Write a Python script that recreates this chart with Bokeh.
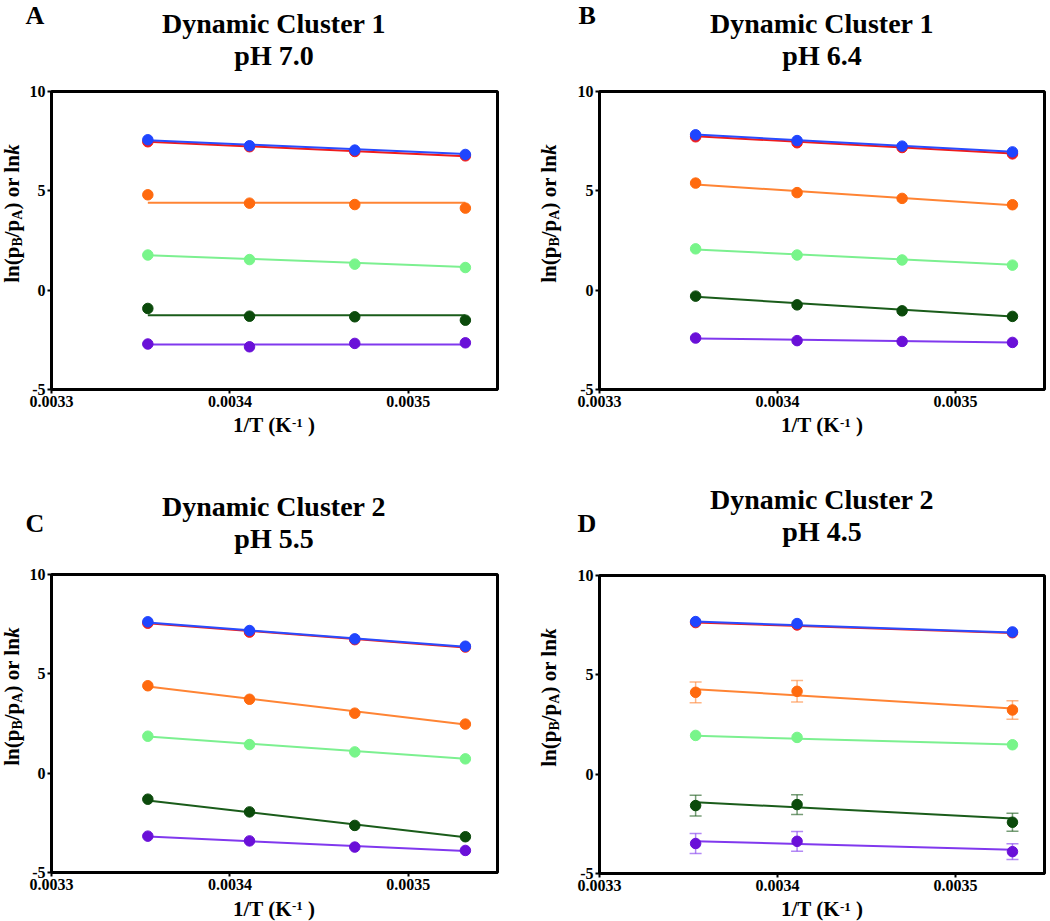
from bokeh.plotting import figure
from bokeh.layouts import row, column
from bokeh.models import Label, FixedTicker, PrintfTickFormatter, Range1d, ColumnDataSource, Whisker, TeeHead
from bokeh.embed import file_html
from bokeh.resources import INLINE

# ---------------- data ----------------
# 1/T (K^-1) at 25, 20, 15, 10 degC
X_FOUR = [0.003354, 0.003411, 0.003470, 0.003532]
# panel D lacks the 15 degC point
X_THREE = [0.003354, 0.003411, 0.003532]

SERIES_ORDER = ["purple", "darkgreen", "lightgreen", "orange", "red", "blue"]

A_POINTS = {
    "red": [7.47, 7.22, 6.98, 6.76],
    "blue": [7.57, 7.27, 7.05, 6.83],
    "orange": [4.80, 4.38, 4.31, 4.13],
    "lightgreen": [1.77, 1.54, 1.31, 1.14],
    "darkgreen": [-0.92, -1.31, -1.34, -1.51],
    "purple": [-2.71, -2.85, -2.68, -2.65],
}
A_FIT = {
    "red": [7.47, 6.74], "blue": [7.55, 6.85], "orange": [4.40, 4.40],
    "lightgreen": [1.76, 1.17], "darkgreen": [-1.26, -1.26], "purple": [-2.74, -2.74],
}

B_POINTS = {
    "red": [7.72, 7.42, 7.18, 6.86],
    "blue": [7.82, 7.53, 7.25, 6.96],
    "orange": [5.39, 4.91, 4.62, 4.30],
    "lightgreen": [2.08, 1.77, 1.52, 1.26],
    "darkgreen": [-0.30, -0.74, -1.04, -1.32],
    "purple": [-2.41, -2.54, -2.58, -2.63],
}
B_FIT = {
    "red": [7.75, 6.88], "blue": [7.83, 6.97], "orange": [5.32, 4.27],
    "lightgreen": [2.05, 1.28], "darkgreen": [-0.33, -1.33], "purple": [-2.43, -2.64],
}

C_POINTS = {
    "red": [7.55, 7.10, 6.72, 6.35],
    "blue": [7.62, 7.18, 6.76, 6.39],
    "orange": [4.40, 3.72, 3.02, 2.47],
    "lightgreen": [1.86, 1.44, 1.07, 0.72],
    "darkgreen": [-1.31, -1.95, -2.63, -3.20],
    "purple": [-3.17, -3.41, -3.72, -3.89],
}
C_FIT = {
    "red": [7.55, 6.33], "blue": [7.58, 6.36], "orange": [4.36, 2.45],
    "lightgreen": [1.84, 0.72], "darkgreen": [-1.38, -3.22], "purple": [-3.19, -3.92],
}

D_POINTS = {
    "red": [7.63, 7.51, 7.12],
    "blue": [7.68, 7.58, 7.16],
    "orange": [4.12, 4.17, 3.23],
    "lightgreen": [1.95, 1.85, 1.48],
    "darkgreen": [-1.58, -1.53, -2.42],
    "purple": [-3.49, -3.38, -3.90],
}
D_FIT = {
    "red": [7.63, 7.10], "blue": [7.68, 7.13], "orange": [4.28, 3.31],
    "lightgreen": [1.93, 1.49], "darkgreen": [-1.41, -2.23], "purple": [-3.38, -3.80],
}
D_ERR = {
    "orange": [0.52, 0.54, 0.46],
    "darkgreen": [0.52, 0.50, 0.45],
    "purple": [0.50, 0.50, 0.40],
}

X_TICKS = [0.0033, 0.0034, 0.0035]
Y_TICKS = [-5, 0, 5, 10]

# ---------------- styles ----------------
MARKER_COLORS = {
    "red": "#f01c1c", "blue": "#1f45ff", "orange": "#ff6a0e",
    "lightgreen": "#78f58a", "darkgreen": "#0b4a0b", "purple": "#6a10d8",
}
LINE_COLORS = {
    "red": "#f01c1c", "blue": "#2a4cff", "orange": "#ff8434",
    "lightgreen": "#7cf090", "darkgreen": "#1a5c1a", "purple": "#8038ee",
}
FONT = "Liberation Serif"
MID = 0.34  # distance (em) from baseline to the text box centre


# Times-Bold advance widths (per 1000 em) for composing rich labels
def w(text, size, italic=False):
    table = {"l": 278, "n": 556, "(": 333, "p": 556, "/": 278, ")": 333, " ": 250,
             "o": 500, "r": 444, "B": 667, "A": 722, "k": 500 if italic else 556,
             "1": 500, "T": 667, "K": 778, "-": 333}
    return sum(table[c] for c in text) * size / 1000.0


def lbl(p, text, x, y, size, style="bold", align="left", angle=0):
    # (x, y) is the baseline anchor; convert to the box-centre anchor
    if angle == 0:
        y = y + MID * size
    else:
        x = x - MID * size
    p.add_layout(Label(x=x, y=y, x_units="screen", y_units="screen", text=text,
                       text_font=FONT, text_font_size=f"{size}px", text_font_style=style,
                       text_color="black", text_align=align, text_baseline="middle",
                       angle=angle, angle_units="deg"))


def text_fig(width, height):
    f = figure(width=width, height=height, output_backend="svg", toolbar_location=None,
               tools="", x_axis_type=None, y_axis_type=None, min_border=0,
               x_range=Range1d(0, 1), y_range=Range1d(0, 1), title=None)
    f.outline_line_color = None
    f.background_fill_color = "white"
    f.border_fill_color = "white"
    return f


def data_fig(width, height, bl, br, bt, bb, xs, points, fits, errs):
    p = figure(width=width, height=height, output_backend="svg", toolbar_location=None,
               tools="", x_range=Range1d(0.0033, 0.00355), y_range=Range1d(-5, 10), title=None)
    p.min_border_left = bl
    p.min_border_right = br
    p.min_border_top = bt
    p.min_border_bottom = bb
    p.background_fill_color = "white"
    p.border_fill_color = "white"
    p.outline_line_color = "black"
    p.outline_line_width = 3
    p.grid.visible = False
    for ax in (p.xaxis, p.yaxis):
        ax.axis_line_width = 3
        ax.axis_line_color = "black"
        ax.major_tick_line_width = 2
        ax.major_tick_line_color = "black"
        ax.major_tick_out = 4
        ax.major_tick_in = 0
        ax.minor_tick_line_color = None
        ax.major_label_text_font = FONT
        ax.major_label_text_font_style = "bold"
        ax.major_label_text_font_size = "16px"
        ax.major_label_text_color = "black"
    p.xaxis.ticker = FixedTicker(ticks=X_TICKS)
    p.xaxis.formatter = PrintfTickFormatter(format="%.4f")
    p.xaxis.major_label_standoff = 2
    p.yaxis.ticker = FixedTicker(ticks=Y_TICKS)
    p.yaxis.formatter = PrintfTickFormatter(format="%d")
    p.yaxis.major_label_standoff = 2

    for key, e in errs.items():
        ys = points[key]
        src = ColumnDataSource(dict(x=xs, lo=[v - d for v, d in zip(ys, e)],
                                    hi=[v + d for v, d in zip(ys, e)]))
        c = LINE_COLORS[key]
        p.add_layout(Whisker(source=src, base="x", lower="lo", upper="hi", line_color=c,
                             line_alpha=0.6, line_width=1.5,
                             lower_head=TeeHead(size=12, line_color=c, line_alpha=0.6, line_width=1.5),
                             upper_head=TeeHead(size=12, line_color=c, line_alpha=0.6, line_width=1.5)))

    for key in SERIES_ORDER:
        p.line([xs[0], xs[-1]], fits[key], line_color=LINE_COLORS[key], line_width=2)
        p.scatter(xs, points[key], marker="circle", size=10.5,
                  fill_color=MARKER_COLORS[key], line_color=MARKER_COLORS[key])
    return p


def make_panel(letter, title1, title2, xs, points, fits, errs, g):
    pw = 525
    frame_cx = g["ylab_w"] + g["bl"] + (pw - g["ylab_w"] - g["bl"] - g["br"]) / 2.0
    data_h = g["bt"] + 298 + g["bb"]

    # titles & panel letter
    tf = text_fig(pw, g["title_h"])
    lbl(tf, letter, g["letter_x"], g["title_h"] - g["letter_base"], 26)
    lbl(tf, title1, frame_cx, g["title_h"] - g["t1_base"], 28, align="center")
    lbl(tf, title2, frame_cx, g["title_h"] - g["t2_base"], 28, align="center")

    # y axis label: ln(p_B/p_A) or lnk
    yf = text_fig(g["ylab_w"], data_h)
    pieces = [("ln(p", 21, "bold", 0), ("B", 14, "bold", 3), ("/p", 21, "bold", 0),
              ("A", 14, "bold", 3), (") or ln", 21, "bold", 0), ("k", 21, "bold italic", 0)]
    total = sum(w(t, s, "italic" in st) for t, s, st, _ in pieces)
    ypos = g["bb"] + 149 + 3 - total / 2
    for t, s, st, shift in pieces:
        lbl(yf, t, g["ylab_base"] + shift, ypos, s, style=st, angle=90)
        ypos += w(t, s, "italic" in st)

    dfig = data_fig(pw - g["ylab_w"], data_h, g["bl"], g["br"], g["bt"], g["bb"],
                    xs, points, fits, errs)

    # x axis label: 1/T (K^-1 )
    xf = text_fig(pw, g["xlab_h"])
    xpieces = [("1/T (K", 21, 0, 0), ("-1", 13, 5.5, 0), (")", 21, 0, w(" ", 21))]
    total = sum(w(t, s) + pre for t, s, _, pre in xpieces)
    xpos = frame_cx - total / 2
    for t, s, raise_, pre in xpieces:
        xpos += pre
        lbl(xf, t, xpos, g["xlab_h"] - g["xlab_base"] + raise_, s)
        xpos += w(t, s)

    return column(tf, row(yf, dfig), xf)


GEO_A = dict(ylab_w=26, bl=24, br=28, bt=11, bb=24, title_h=80, xlab_h=47,
             letter_x=25, letter_base=23.5, t1_base=33, t2_base=65, ylab_base=19, xlab_base=19)
GEO_B = dict(ylab_w=37, bl=37, br=6, bt=11, bb=24, title_h=80, xlab_h=47,
             letter_x=53, letter_base=23.5, t1_base=33, t2_base=65, ylab_base=31, xlab_base=19)
GEO_C = dict(ylab_w=26, bl=24, br=28, bt=11, bb=24, title_h=103, xlab_h=25,
             letter_x=25, letter_base=72, t1_base=56, t2_base=88, ylab_base=19, xlab_base=19.5)
GEO_D = dict(ylab_w=37, bl=37, br=6, bt=11, bb=24, title_h=104, xlab_h=24,
             letter_x=52, letter_base=72, t1_base=49, t2_base=81, ylab_base=31, xlab_base=19)

pA = make_panel("A", "Dynamic Cluster 1", "pH 7.0", X_FOUR, A_POINTS, A_FIT, {}, GEO_A)
pB = make_panel("B", "Dynamic Cluster 1", "pH 6.4", X_FOUR, B_POINTS, B_FIT, {}, GEO_B)
pC = make_panel("C", "Dynamic Cluster 2", "pH 5.5", X_FOUR, C_POINTS, C_FIT, {}, GEO_C)
pD = make_panel("D", "Dynamic Cluster 2", "pH 4.5", X_THREE, D_POINTS, D_FIT, D_ERR, GEO_D)

layout = column(row(pA, pB), row(pC, pD))

open("out.html", "w").write(file_html(layout, INLINE))
